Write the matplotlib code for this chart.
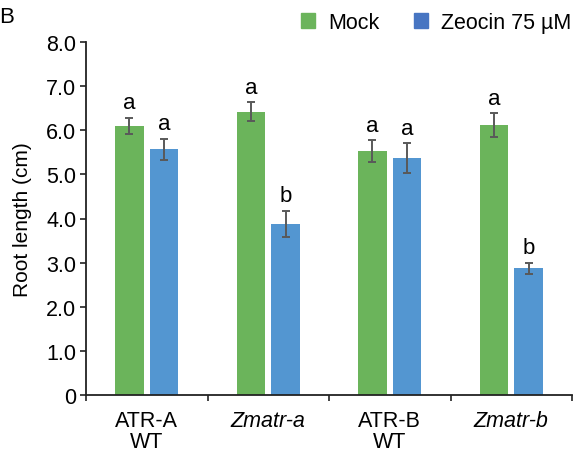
import numpy as np
import matplotlib.pyplot as plt
from matplotlib.patches import Patch

plt.rcParams['font.family'] = ['Liberation Sans', 'DejaVu Sans']

genotypes = ["ATR-A\nWT", "Zmatr-a", "ATR-B\nWT", "Zmatr-b"]
italic = [False, True, False, True]
mock = [6.10, 6.42, 5.53, 6.12]
mock_err = [0.18, 0.22, 0.25, 0.27]
zeocin = [5.57, 3.88, 5.37, 2.87]
zeocin_err = [0.24, 0.30, 0.33, 0.13]
mock_letters = ["a", "a", "a", "a"]
zeocin_letters = ["a", "b", "a", "b"]

green = "#6bb45b"
blue = "#5396d1"
legend_blue = "#4775c2"
err_color = "#595959"

fig = plt.figure(figsize=(5.84, 4.52), dpi=100)
ax = fig.add_axes([86 / 584, 56 / 452, 486 / 584, 353 / 452])

x = np.arange(len(genotypes))
w = 0.235
off = 0.142
ekw = dict(ecolor=err_color, elinewidth=1.4, capsize=3.2, capthick=1.4)
ax.bar(x - off, mock, w, color=green, yerr=mock_err, error_kw=ekw)
ax.bar(x + off, zeocin, w, color=blue, yerr=zeocin_err, error_kw=ekw)

for i in range(len(x)):
    ax.text(x[i] - off, mock[i] + mock_err[i] + 0.1, mock_letters[i],
            ha="center", va="bottom", fontsize=16)
    ax.text(x[i] + off, zeocin[i] + zeocin_err[i] + 0.1, zeocin_letters[i],
            ha="center", va="bottom", fontsize=16)

ax.set_xlim(-0.5, 3.5)
ax.set_ylim(0, 8)
ax.set_yticks(np.arange(0, 9))
ax.set_yticklabels(["0"] + ["%.1f" % v for v in range(1, 9)])
ax.set_xticks(x)
ax.set_xticklabels(genotypes, linespacing=1.0)
for lbl, it in zip(ax.get_xticklabels(), italic):
    if it:
        lbl.set_style("italic")
ax.set_xticks(np.arange(-0.5, 4, 1), minor=True)
ax.tick_params(axis="x", which="major", length=0, labelsize=15.5, pad=11)
ax.tick_params(axis="x", which="minor", length=4, width=1.2, direction="out", color="#222222")
ax.tick_params(axis="y", length=4, width=1.2, direction="out", labelsize=15.5, color="#222222", pad=3)

for s in ["top", "right"]:
    ax.spines[s].set_visible(False)
for s in ["left", "bottom"]:
    ax.spines[s].set_linewidth(1.3)
    ax.spines[s].set_color("#222222")

ax.set_ylabel("Root length (cm)", fontsize=15, labelpad=10)

handles = [Patch(color=green, label="Mock"), Patch(color=legend_blue, label="Zeocin 75 µM")]
fig.legend(handles=handles, loc="upper right", bbox_to_anchor=(1.0, 1.0), ncol=2,
           frameon=False, fontsize=15.5, handlelength=0.65, handleheight=0.65,
           handletextpad=0.6, columnspacing=1.6, borderaxespad=0.2)

fig.text(-0.002, 0.961, "B", fontsize=16, ha="left", va="center")

fig.savefig("out.png", dpi=100)
